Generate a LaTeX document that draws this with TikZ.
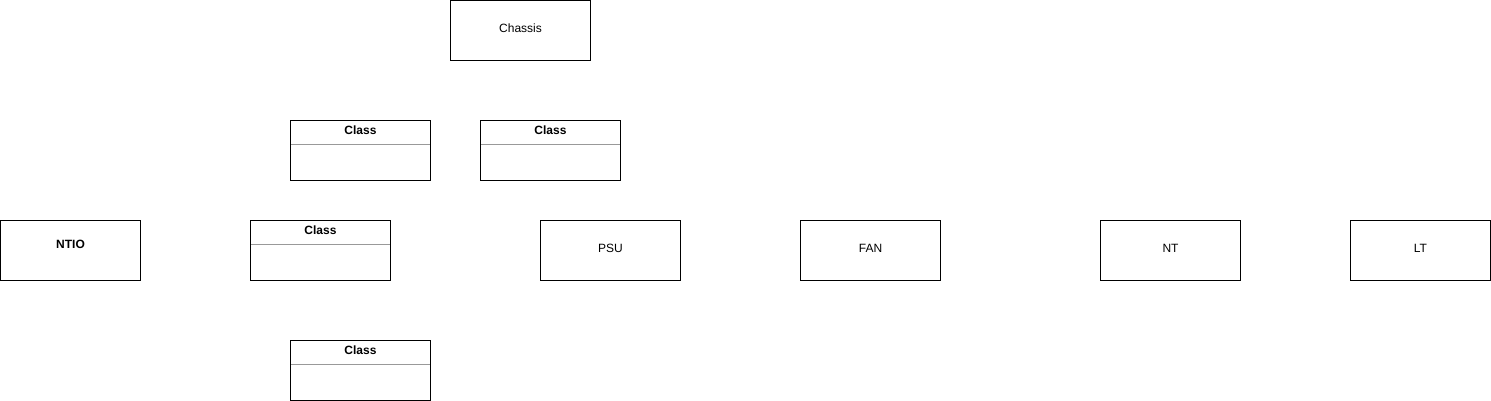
\documentclass[tikz,border=0pt]{standalone}
\usepackage{fontspec}
\setmainfont{Liberation Sans}
\usetikzlibrary{calc}
\begin{document}
\begin{tikzpicture}[x=1pt,y=-1pt,
  box/.style={draw=black,line width=1pt,minimum width=140pt,minimum height=60pt,inner sep=0pt,outer sep=0pt,anchor=north west},
  classbox/.style={box},
  divider/.style={draw=gray!80,line width=1pt},
  txt/.style={font=\fontsize{12}{14}\selectfont,inner sep=0pt},
  lbl/.style={font=\fontsize{12}{14}\selectfont\bfseries,inner sep=0pt}]
\useasboundingbox (0,0) rectangle (1491,401);
\fill[white] (0,0) rectangle (1491,401);
\node[box] (chassis) at (450.5,0.5) {};
\node[txt] (chassistxt) at ($(chassis.north)+(0,28)$) {Chassis};
% class boxes
\foreach \n/\x/\y in {c1/290.5/120.5, c2/480.5/120.5, c3/250.5/220.5, c4/290.5/340.5}{
  \node[classbox] (\n) at (\x,\y) {};
  \draw[divider] ($(\n.north west)+(0.5,24)$) -- ($(\n.north east)+(-0.5,24)$);
  \node[lbl] (\n t) at ($(\n.north)+(0,10)$) {Class};
}
\node[box] (ntio) at (0.5,220.5) {};
\node[lbl] (ntiot) at ($(ntio.north)+(0,23.5)$) {NTIO};
\foreach \n/\x/\t in {psu/540.5/PSU, fan/800.5/FAN, nt/1100.5/NT, lt/1350.5/LT}{
  \node[box] (\n) at (\x,220.5) {};
  \node[txt] (\n t) at ($(\n.north)+(0,28)$) {\t};
}
\end{tikzpicture}
\end{document}
